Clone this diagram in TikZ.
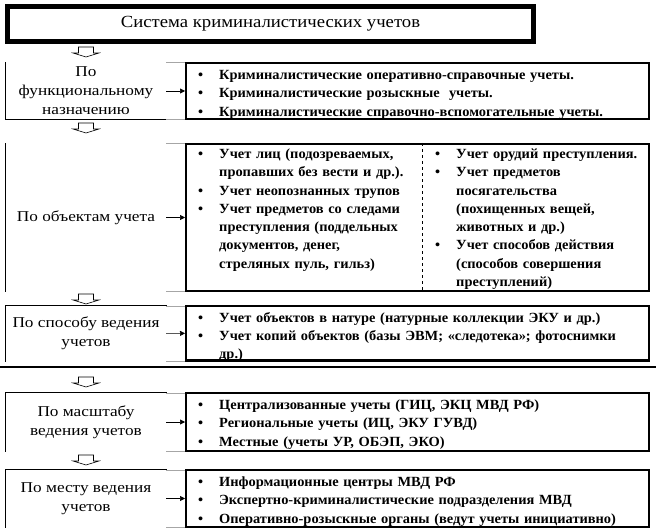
\documentclass[tikz,border=0pt]{standalone}
\usepackage{fontspec}
\setmainfont{Liberation Serif}
\newfontfamily\titlefont[FakeStretch=1.1]{Liberation Serif}
\newfontfamily\catfont[FakeStretch=1.15]{Liberation Serif}
\newfontfamily\listfont[FakeStretch=1.03]{Liberation Serif}
\usetikzlibrary{positioning, arrows.meta}

\newcommand{\bitem}[1]{\par\parskip=0pt\hangindent=26pt\hangafter=1\noindent
  \makebox[26pt][l]{\hspace{5pt}\textbullet}#1\par}

\tikzset{
  hollow/.pic={\draw[line width=0.6pt, fill=white]
    (-7.5,0) -- (7.5,0) -- (7.5,6) -- (13,6) -- (0,10) -- (-13,6) -- (-7.5,6) -- cycle;}
}

\begin{document}
\begin{tikzpicture}[x=1pt, y=-1pt, node distance=4pt and 8pt,
  titlebox/.style={draw, line width=4.5pt, minimum width=526.5pt, inner sep=0pt,
    font=\titlefont\fontsize{17}{20}\selectfont},
  catbox/.style={draw, double, double distance=1.3pt, line width=0.5pt,
    minimum width=159.7pt, inner sep=0pt, align=center,
    font=\catfont\fontsize{15}{19}\selectfont},
  listbox/.style={draw, line width=2.4pt, minimum width=462.6pt, inner sep=0pt},
  listtext/.style={inner sep=0pt, text width=#1, align=left,
    font=\listfont\bfseries\fontsize{14}{18.3}\selectfont},
  gridline/.style={draw=black!35, line width=0.8pt},
  link/.style={-{Triangle[length=5pt,width=5pt]}, line width=0.6pt},
  divider/.style={dashed, line width=0.6pt}
]
\useasboundingbox (0,0) rectangle (656,532);

% title
\node[titlebox, minimum height=35.5pt] (title) at (270.5,24) {Система криминалистических учетов};
\draw[line width=0.6pt] ([shift={(4.4,4.4)}]title.north west) rectangle ([shift={(-4.4,-4.4)}]title.south east);

% functional purpose
\pic at (86,47) {hollow};
\node[catbox, minimum height=55.7pt] (func) at (86,91) {По\\функциональному\\назначению};
\node[listbox, minimum height=55.7pt] (funclist) at (417.5,91) {};
\node[listtext=450pt, below right=-1pt and 8pt of funclist.north west] (functext) {%
  \bitem{Криминалистические оперативно-справочные учеты.}%
  \bitem{Криминалистические розыскные\ \ учеты.}%
  \bitem{Криминалистические справочно-вспомогательные учеты.}};

% objects
\pic at (86,123) {hollow};
\node[catbox, minimum height=146.7pt] (obj) at (86,217.5) {По объектам учета};
\node[listbox, minimum height=146.6pt] (objlist) at (417.5,217.5) {};
\node[listtext=228pt, below right=-3pt and 8pt of objlist.north west] (objleft) {%
  \bitem{Учет лиц (подозреваемых,\newline пропавших без вести и др.).}%
  \bitem{Учет неопознанных трупов}%
  \bitem{Учет предметов со следами\newline преступления (поддельных\newline документов, денег,\newline стреляных пуль, гильз)}};
\node[listtext=214pt, below right=-3pt and 245pt of objlist.north west] (objright) {%
  \bitem{Учет орудий преступления.}%
  \bitem{Учет предметов\newline посягательства\newline (похищенных вещей,\newline животных и др.)}%
  \bitem{Учет способов действия\newline (способов совершения\newline преступлений)}};
\draw[divider] ([xshift=-8pt]objright.west |- objlist.north) -- ([xshift=-8pt]objright.west |- objlist.south);

% way of keeping
\pic at (86,294) {hollow};
\node[catbox, minimum height=54.7pt] (way) at (86,333.5) {По способу ведения\\учетов};
\node[listbox, minimum height=54.6pt] (waylist) at (417.5,333) {};
\node[listtext=450pt, below right=-1pt and 8pt of waylist.north west] (waytext) {%
  \bitem{Учет объектов в натуре (натурные коллекции ЭКУ и др.)}%
  \bitem{Учет копий объектов (базы ЭВМ; «следотека»; фотоснимки\newline др.)}};

\draw[line width=2.6pt] (0,367) -- (656,367);

% scale
\pic at (86,377) {hollow};
\node[catbox, minimum height=57.7pt] (scale) at (86,422) {По масштабу\\ведения учетов};
\node[listbox, minimum height=57.6pt] (scalelist) at (417.5,422) {};
\node[listtext=450pt, below right=-1pt and 8pt of scalelist.north west] (scaletext) {%
  \bitem{Централизованные учеты (ГИЦ, ЭКЦ МВД РФ)}%
  \bitem{Региональные учеты (ИЦ, ЭКУ ГУВД)}%
  \bitem{Местные (учеты УР, ОБЭП, ЭКО)}};

% place
\pic at (86,455) {hollow};
\node[catbox, minimum height=56.7pt] (place) at (86,498.5) {По месту ведения\\учетов};
\node[listbox, minimum height=56.6pt] (placelist) at (417.5,498.5) {};
\node[listtext=450pt, below right=-1pt and 8pt of placelist.north west] (placetext) {%
  \bitem{Информационные центры МВД РФ}%
  \bitem{Экспертно-криминалистические подразделения МВД}%
  \bitem{Оперативно-розыскные органы (ведут учеты инициативно)}};

% links
\foreach \c/\l in {func/funclist, obj/objlist, way/waylist, scale/scalelist, place/placelist} {
  \draw[gridline] (\c.north east) -- (\c.north east -| \l.west);
  \draw[gridline] (\c.south east) -- (\c.south east -| \l.west);
  \draw[link] (\c) -- (\l);
}
\end{tikzpicture}
\end{document}
